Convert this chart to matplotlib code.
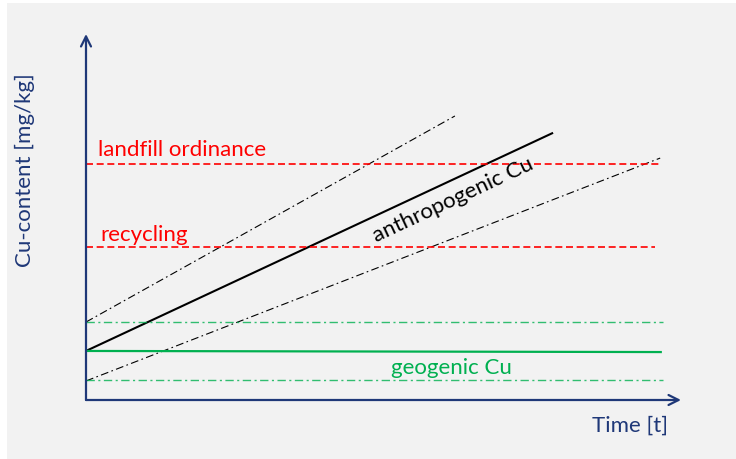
import matplotlib.pyplot as plt
from matplotlib.patches import Rectangle

# colours
navy = '#1f3878'
red = '#ff0000'
green = '#00b050'
bg = '#f2f2f2'

# schematic values (arbitrary units, time 0..100, content 0..100)
t_start = 0
anthro_end = (78.5, 73.0)
anthro_start = 13.4
upper_start, upper_end = 21.3, (62.0, 77.6)
lower_start, lower_end = 5.2, (96.5, 66.1)

landfill_level, landfill_end = 64.5, 96.5
recycling_level, recycling_end = 41.8, 95.6
geogenic_level = (13.4, 13.1)
geogenic_end = 96.6
geo_band = [21.3, 5.5]
geo_band_end = 97.0

plt.rcParams['font.family'] = ['Lato', 'DejaVu Sans']

fig = plt.figure(figsize=(7.36, 4.60), dpi=100, facecolor=bg)
# thin white strips on top and left edges
fig.patches.append(Rectangle((0, 456 / 460), 1, 4 / 460, transform=fig.transFigure,
                             facecolor='white', edgecolor='none', zorder=-5))
fig.patches.append(Rectangle((0, 0), 7 / 736, 1, transform=fig.transFigure,
                             facecolor='white', edgecolor='none', zorder=-5))

# axes box: origin at (86, 401) px, arrows to x=681 and y=35
ax = fig.add_axes([86 / 736, (460 - 401) / 460, 595 / 736, 366 / 460])
ax.set_zorder(2)
ax.set_xlim(0, 100)
ax.set_ylim(0, 100)
ax.axis('off')

# anthropogenic Cu and its band
ax.plot([t_start, anthro_end[0]], [anthro_start, anthro_end[1]], color='black', lw=1.5,
        solid_capstyle='butt')
ax.plot([t_start, upper_end[0]], [upper_start, upper_end[1]], color='black', lw=0.8,
        dashes=(7, 3, 1.5, 3))
ax.plot([t_start, lower_end[0]], [lower_start, lower_end[1]], color='black', lw=0.8,
        dashes=(7, 3, 1.5, 3))

# limits
ax.plot([t_start, landfill_end], [landfill_level] * 2, color=red, lw=1.2, dashes=(4.2, 2.2))
ax.plot([t_start, recycling_end], [recycling_level] * 2, color=red, lw=1.2, dashes=(4.2, 2.2))

# geogenic Cu and its band
ax.plot([t_start, geogenic_end], list(geogenic_level), color=green, lw=1.6)
for lvl in geo_band:
    ax.plot([t_start, geo_band_end], [lvl, lvl], color=green, lw=1.0, alpha=0.8,
            dashes=(6, 2.5, 1.5, 2.5))

# axis arrows
arrow = dict(arrowstyle='->', lw=1.6, color=navy, mutation_scale=18, shrinkA=0, shrinkB=0)
ax.annotate('', xy=(100, 0), xytext=(0, 0), arrowprops=arrow, annotation_clip=False)
ax.annotate('', xy=(0, 100), xytext=(0, 0), arrowprops=arrow, annotation_clip=False)

# labels
fs = 16
ax.text(2.0, 68.6, 'landfill ordinance', color=red, fontsize=fs, va='center', ha='left')
ax.text(2.5, 45.4, 'recycling', color=red, fontsize=fs, va='center', ha='left')
ax.text(61.5, 9.0, 'geogenic Cu', color=green, fontsize=fs, va='center', ha='center')
ax.text(61.7, 55.0, 'anthropogenic Cu', color='black', fontsize=fs, va='center', ha='center',
        rotation=25, rotation_mode='anchor')
ax.text(97.8, -6.8, 'Time [t]', color=navy, fontsize=fs, va='center', ha='right', clip_on=False)
ax.text(-10.2, 63.1, 'Cu-content [mg/kg]', color=navy, fontsize=fs, va='center', ha='center',
        rotation=90, clip_on=False)

fig.savefig('out.png', dpi=100, facecolor=fig.get_facecolor())
